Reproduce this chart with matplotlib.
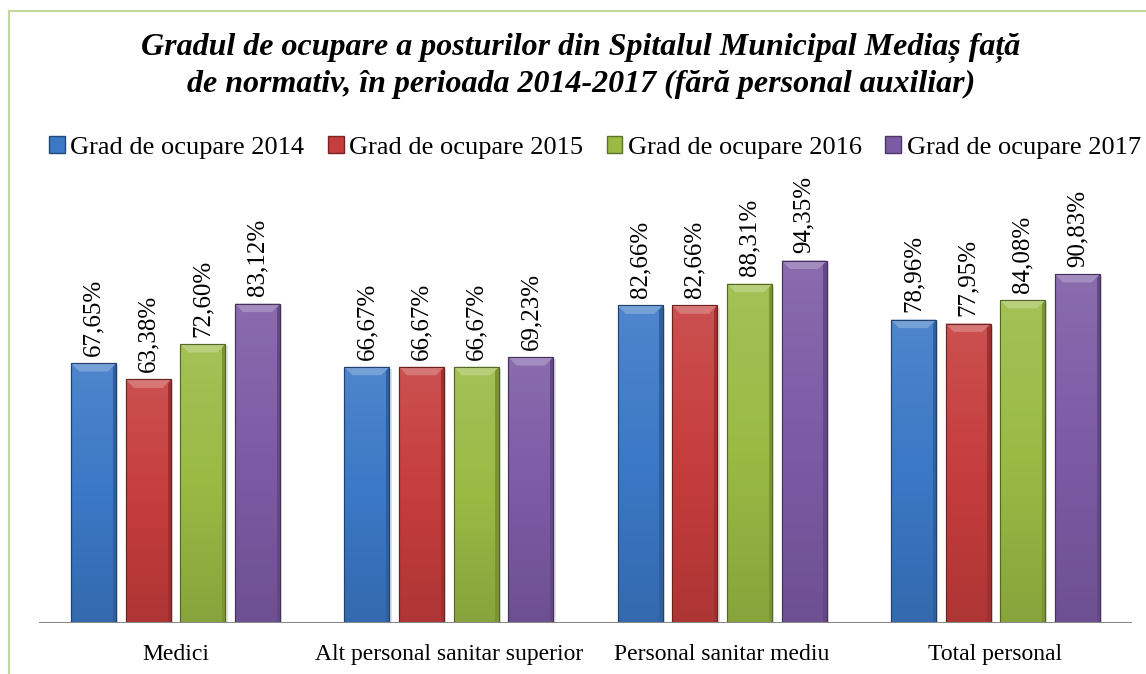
import numpy as np
import matplotlib
matplotlib.use('Agg')
import matplotlib.pyplot as plt
from matplotlib.patches import Patch, Polygon, Rectangle
from matplotlib.lines import Line2D
import matplotlib.colors as mcolors

plt.rcParams['font.family'] = ['Liberation Serif', 'DejaVu Serif']

# date
categorii = ['Medici', 'Alt personal sanitar superior', 'Personal sanitar mediu', 'Total personal']
serii = ['Grad de ocupare 2014', 'Grad de ocupare 2015', 'Grad de ocupare 2016', 'Grad de ocupare 2017']
grad_2014 = [67.65, 66.67, 82.66, 78.96]
grad_2015 = [63.38, 66.67, 82.66, 77.95]
grad_2016 = [72.60, 66.67, 88.31, 84.08]
grad_2017 = [83.12, 69.23, 94.35, 90.83]
culori = ['#3b78c6', '#c53d3c', '#9aba44', '#7c5ba5']

valori = [grad_2014, grad_2015, grad_2016, grad_2017]

fig = plt.figure(figsize=(11.46, 6.74), dpi=100)
ax = fig.add_axes([0.034, 0.0757, 0.9538, 0.684])
ax.set_xlim(-0.5, 3.5)
ax.set_ylim(0, 120)

x = np.arange(len(categorii))
latime = 0.165
pas = 0.2


def mix(c, other, t):
    a = np.array(mcolors.to_rgb(c))
    b = np.array(mcolors.to_rgb(other))
    return tuple(a * (1 - t) + b * t)


for i, (vals, col) in enumerate(zip(valori, culori)):
    poz = x + (i - 1.5) * pas
    bars = ax.bar(poz, vals, width=latime, color=col, edgecolor=mix(col, 'black', 0.45),
                  linewidth=0.8, zorder=3)
    for b, v in zip(bars, vals):
        x0, w, h = b.get_x(), b.get_width(), b.get_height()
        # umbra
        ax.add_patch(Rectangle((x0 + 0.008, -0.6), w, h, color='#000000', alpha=0.12,
                               linewidth=0, zorder=2))
        # gradient vertical
        grad = np.linspace(0, 1, 100).reshape(-1, 1)
        cmap = mcolors.LinearSegmentedColormap.from_list(
            'g', [mix(col, 'black', 0.12), col, mix(col, 'white', 0.1)])
        im = ax.imshow(grad, extent=(x0, x0 + w, 0, h), origin='lower', cmap=cmap,
                       aspect='auto', zorder=3.5)
        im.set_clip_path(b)
        # bizou sus
        dx, dy = 0.03, 2.2
        ax.add_patch(Polygon([(x0, h), (x0 + w, h), (x0 + w - dx, h - dy), (x0 + dx, h - dy)],
                             closed=True, color=mix(col, 'white', 0.3), linewidth=0, zorder=4))
        ax.add_patch(Polygon([(x0 + w, h), (x0 + w, 0), (x0 + w - 0.012, 0), (x0 + w - 0.012, h - dy * 0.5)],
                             closed=True, color=mix(col, 'black', 0.2), linewidth=0, zorder=4))
        ax.add_patch(Rectangle((x0, 0), w, h, fill=False, edgecolor=mix(col, 'black', 0.45),
                               linewidth=0.8, zorder=5))
        eticheta = f'{v:.2f}'.replace('.', ',') + '%'
        ax.text(b.get_x() + w / 2, h + 1.9, eticheta, rotation=90, ha='center', va='bottom',
                fontsize=18, zorder=6)

ax.axhline(0, color='#888888', linewidth=1.5, zorder=6)
for s in ax.spines.values():
    s.set_visible(False)
ax.set_yticks([])
ax.set_xticks(x)
ax.set_xticklabels(categorii, fontsize=17)
ax.tick_params(axis='x', length=0, pad=15)

handles = [Patch(facecolor=c, edgecolor=mix(c, 'black', 0.4)) for c in culori]
fig.legend(handles, serii, loc='center', bbox_to_anchor=(0.519, 0.781), ncol=4, frameon=False,
           fontsize=19, handlelength=0.6, handleheight=0.6, handletextpad=0.2, columnspacing=0.9)

fig.text(0.507, 0.902, 'Gradul de ocupare a posturilor din Spitalul Municipal Mediaș față\n'
         'de normativ, în perioada 2014-2017 (fără personal auxiliar)',
         ha='center', va='center', fontsize=23, fontweight='bold', fontstyle='italic',
         linespacing=1.3)

# chenar
fig.add_artist(Line2D([9 / 1146, 9 / 1146], [0, 1 - 11 / 674], color='#c3d69b', linewidth=1.5))
fig.add_artist(Line2D([9 / 1146, 1], [1 - 11 / 674, 1 - 11 / 674], color='#c3d69b', linewidth=1.5))

fig.savefig('out.png', dpi=100)
